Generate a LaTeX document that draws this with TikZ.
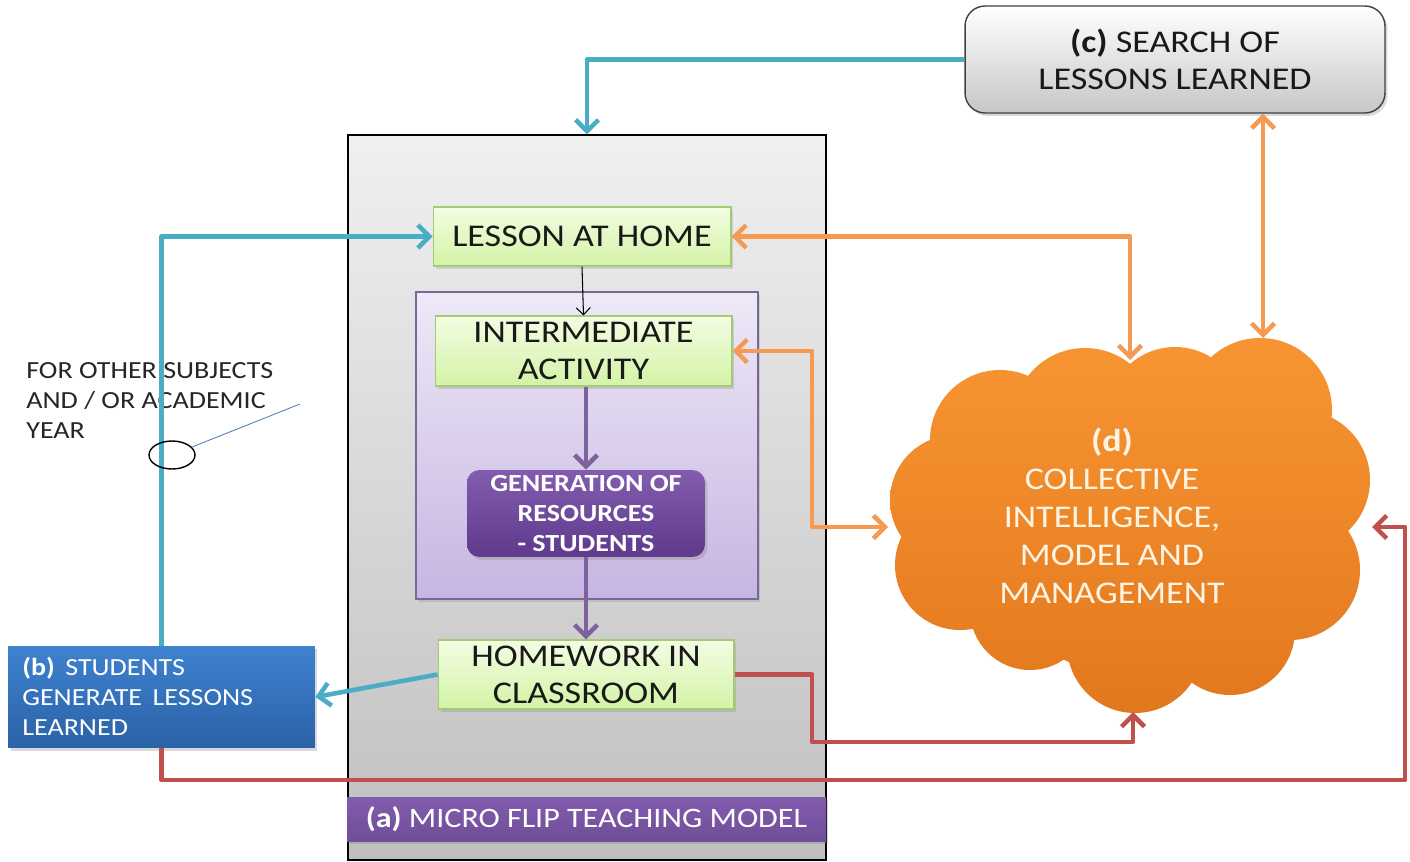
\documentclass[tikz,border=0pt]{standalone}
\usepackage{fontspec}
\setmainfont{Carlito}[FakeStretch=1.14]
\usetikzlibrary{arrows.meta,shadows,shapes.geometric}
\definecolor{tealc}{HTML}{4BACC6}
\definecolor{orangec}{HTML}{F59A52}
\definecolor{redc}{HTML}{C0504D}
\definecolor{purpc}{HTML}{7E62A0}
\definecolor{grnT}{HTML}{F3FDE3}
\definecolor{grnB}{HTML}{D3F3A6}
\definecolor{grnD}{HTML}{A3CC72}
\definecolor{lavT}{HTML}{EEE9F7}
\definecolor{lavB}{HTML}{C7B5E1}
\definecolor{lavD}{HTML}{76699A}
\definecolor{genT}{HTML}{825CAE}
\definecolor{genB}{HTML}{5F3A8C}
\definecolor{bluT}{HTML}{3F82D0}
\definecolor{bluB}{HTML}{2A62A6}
\definecolor{cldT}{HTML}{F89532}
\definecolor{cldB}{HTML}{E2781E}
\definecolor{cldTxt}{HTML}{FFF3E2}
\tikzset{
  greenbox/.style={draw=grnD, line width=0.6pt, top color=grnT, bottom color=grnB,
    inner sep=0pt, align=center, text=black!90,
    font=\fontsize{18}{21}\selectfont,
    drop shadow={opacity=0.25, shadow xshift=0.05cm, shadow yshift=-0.06cm}},
  conn/.style={line width=2.6pt, line join=round},
  hd/.tip={Straight Barb[length=6.5pt,width=13pt]},
}
\begin{document}
\begin{tikzpicture}[x=0.02cm,y=-0.02cm]
\useasboundingbox (0,0) rectangle (1410,862);

% big gray model box
\node[draw=black, line width=0.7pt, top color=black!6, bottom color=black!25,
      minimum width=9.56cm, minimum height=14.5cm, inner sep=0pt] (A) at (587,497.5) {};
% purple container
\node[draw=lavD, line width=0.7pt, top color=lavT, bottom color=lavB,
      minimum width=6.84cm, minimum height=6.14cm, inner sep=0pt,
      drop shadow={opacity=0.25, shadow xshift=0.05cm, shadow yshift=-0.06cm}] (P) at (587,445.5) {};

\node[greenbox, minimum width=5.96cm, minimum height=1.18cm] (lesson) at (582,236.5) {LESSON AT HOME};
\node[greenbox, minimum width=5.94cm, minimum height=1.40cm] (inter) at (583.5,351) {INTERMEDIATE\\ACTIVITY};
\node[rounded corners=0.25cm, top color=genT, bottom color=genB, draw=none,
      minimum width=4.76cm, minimum height=1.74cm, inner sep=0pt, align=center,
      text=white, font=\bfseries\fontsize{14}{17}\selectfont,
      drop shadow={opacity=0.3, shadow xshift=0.05cm, shadow yshift=-0.06cm}] (gen) at (586,513.5)
      {GENERATION OF\\RESOURCES\\- STUDENTS};
\node[greenbox, minimum width=5.92cm, minimum height=1.38cm] (hw) at (586,674.5) {HOMEWORK IN\\CLASSROOM};

% (a) label
\node[top color=genT, bottom color=genB!90!white, draw=none,
      minimum width=9.58cm, minimum height=0.88cm, inner sep=0pt, text=white,
      font=\fontsize{16}{19}\selectfont,
      drop shadow={opacity=0.3, shadow xshift=0.05cm, shadow yshift=-0.06cm}] (alab) at (586.5,819)
      {\textbf{(a)} MICRO FLIP TEACHING MODEL};

% (b) box
\node[top color=bluT, bottom color=bluB, draw=none,
      minimum width=6.14cm, minimum height=2.04cm, inner sep=0pt, text=white,
      drop shadow={opacity=0.3, shadow xshift=0.05cm, shadow yshift=-0.06cm}] (bbox) at (161.5,697) {};
\node[anchor=west, align=left, text=white, inner sep=0pt,
      font=\fontsize{14}{17}\selectfont] (btxt) at (22,696)
      {\textbf{(b)}\, STUDENTS\\GENERATE\, LESSONS\\LEARNED};

% (c) box
\node[draw=black!75, line width=0.8pt, rounded corners=0.4cm, top color=white, bottom color=black!22,
      minimum width=8.4cm, minimum height=2.14cm, inner sep=0pt, align=center,
      text=black!90, font=\fontsize{18}{21}\selectfont,
      drop shadow={opacity=0.3, shadow xshift=0.05cm, shadow yshift=-0.06cm}] (cbox) at (1175,59.5)
      {\textbf{(c)} SEARCH OF\\LESSONS LEARNED};

% (d) cloud
\shade[top color=cldT, bottom color=cldB]
  (1000,440) circle[radius=70] (1085,420) circle[radius=72] (1175,415) circle[radius=68]
  (1260,410) circle[radius=72] (1300,480) circle[radius=70] (1290,570) circle[radius=70]
  (1230,630) circle[radius=65] (1135,645) circle[radius=68] (1030,610) circle[radius=60]
  (960,565) circle[radius=65] (955,500) circle[radius=65] (1130,525) circle[radius=150];
\node[align=center, text=cldTxt, inner sep=0pt, font=\fontsize{18}{21.6}\selectfont] (dtxt) at (1112,516)
  {\textbf{(d)}\\COLLECTIVE\\INTELLIGENCE,\\MODEL AND\\MANAGEMENT};
\coordinate (dT1) at (1130,360);
\coordinate (dT2) at (1263,338);
\coordinate (dL) at (888,527);
\coordinate (dR) at (1372,527);
\coordinate (dB) at (1133,712);

% side note
\node[anchor=north west, align=left, inner sep=0pt, text=black!85,
      font=\fontsize{14}{17}\selectfont] (note) at (26,362)
      {FOR OTHER SUBJECTS\\AND / OR ACADEMIC\\YEAR};

% connectors
\coordinate (jx) at (812,440);
\coordinate (r1) at (812,742);
\coordinate (r2) at (1405,780);

\draw[conn, tealc, -{hd}] (cbox.west) -| (A.north);
\draw[conn, tealc, -{hd}] (bbox.north) |- (lesson.west);
\draw[conn, tealc, -{hd}] (hw.west) -- (bbox.east);

\draw[line width=0.6pt, -{Straight Barb[length=4pt,width=8pt]}] (lesson.south) -- (inter.north);
\draw[conn, purpc, -{hd}] (inter.south -| gen.north) -- (gen.north);
\draw[conn, purpc, -{hd}] (gen.south) -- (hw.north -| gen.south);

\draw[conn, orangec, {hd}-{hd}] (lesson.east) -| (dT1);
\draw[conn, orangec, {hd}-{hd}] (inter.east) -| (jx) |- (dL);
\draw[conn, orangec, {hd}-{hd}] (cbox.south -| dT2) -- (dT2);

\draw[conn, redc, -{hd}] (hw.east) -| (r1) -| (dB);
\draw[conn, redc, -{hd}] (bbox.south) |- (r2) |- (dR);

% ellipse marker
\node[draw=black, line width=0.8pt, ellipse, minimum width=0.92cm, minimum height=0.56cm, inner sep=0pt] (ell) at (172,455) {};
\coordinate (lend) at (300,404);
\draw[line width=0.5pt, color=bluB!80!white] (ell) -- (lend);
\end{tikzpicture}
\end{document}
